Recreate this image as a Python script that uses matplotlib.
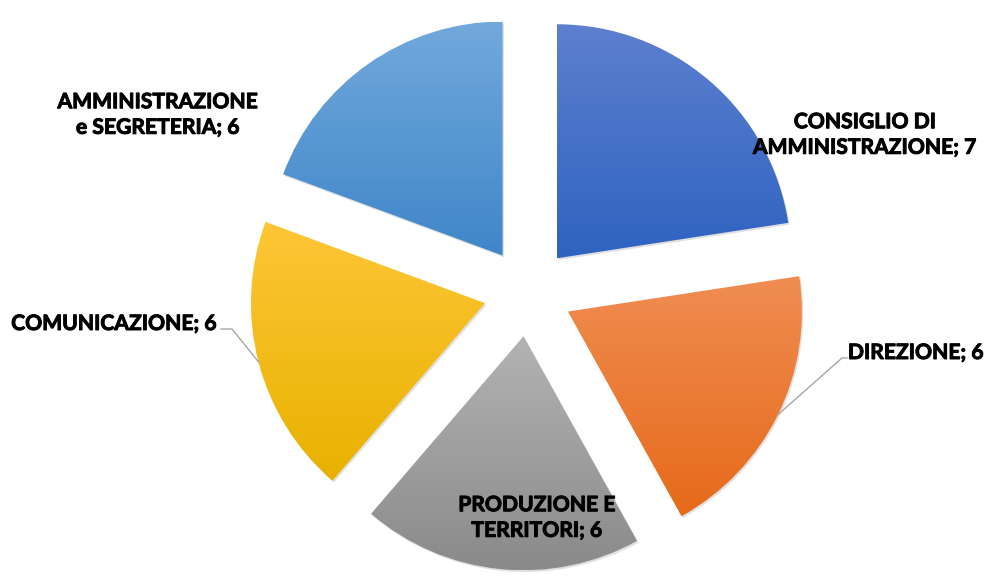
import numpy as np
import matplotlib
matplotlib.use("Agg")
import matplotlib.pyplot as plt
import matplotlib.patheffects as pe
from matplotlib.colors import to_rgb
from matplotlib.lines import Line2D
from matplotlib.patches import Wedge

categories = ["CONSIGLIO DI\nAMMINISTRAZIONE", "DIREZIONE", "PRODUZIONE E\nTERRITORI",
              "COMUNICAZIONE", "AMMINISTRAZIONE\ne SEGRETERIA"]
values = [7, 6, 6, 6, 6]

# gradient colours (top, bottom) per slice
grads = [("#5d80cf", "#2e63c0"), ("#f08d52", "#e66a1a"), ("#b3b3b3", "#8a8a8a"),
         ("#fec636", "#e8b100"), ("#72a9dc", "#3f86c9")]

plt.rcParams['font.family'] = ['Lato', 'DejaVu Sans']

W, H = 990, 576
fig = plt.figure(figsize=(W / 100, H / 100), dpi=100)
cx, cy, R = 528, 292, 234          # pie centre / radius in pixels
L = 1.3
side = 2 * L * R
ax = fig.add_axes([(cx - side / 2) / W, (H - cy - side / 2) / H, side / W, side / H])

wedges, _ = ax.pie(values, startangle=90, counterclock=False, explode=[0.19] * 5,
                   radius=1, wedgeprops=dict(linewidth=0))
ax.set_xlim(-L, L)
ax.set_ylim(-L, L)
ax.axis('off')

for w, (ctop, cbot) in zip(wedges, grads):
    # soft shadow
    sh = Wedge((w.center[0] + 0.006, w.center[1] - 0.008), w.r, w.theta1, w.theta2,
               facecolor='#000000', alpha=0.12, linewidth=0, zorder=0.5)
    ax.add_patch(sh)
    w.set_facecolor('none')
    w.set_zorder(2)
    ext = w.get_path().get_extents()
    n = 256
    t = np.linspace(0, 1, n)[:, None]
    grad = (1 - t) * np.array(to_rgb(ctop)) + t * np.array(to_rgb(cbot))
    im = ax.imshow(grad[:, None, :], extent=[ext.x0, ext.x1, ext.y0, ext.y1],
                   origin='upper', aspect='auto', zorder=1, interpolation='bilinear')
    im.set_clip_path(w)
ax.set_xlim(-L, L)
ax.set_ylim(-L, L)

labels = [f"{c}; {v}" for c, v in zip(categories, values)]
fs = 15.2
style = dict(fontsize=fs, fontweight='bold', color='black', ha='center', va='center',
             linespacing=1.35,
             path_effects=[pe.withStroke(linewidth=0.7, foreground='black')])
fig.text(865 / W, 1 - 135 / H, labels[0], **style)
fig.text(916 / W, 1 - 353 / H, labels[1], **style)
fig.text(537 / W, 1 - 518 / H, labels[2], zorder=5, **style)
fig.text(114 / W, 1 - 324 / H, labels[3], **style)
fig.text(158 / W, 1 - 115 / H, labels[4], **style)


def arc_mid(w):
    th = np.deg2rad((w.theta1 + w.theta2) / 2)
    p = (w.center[0] + w.r * np.cos(th), w.center[1] + w.r * np.sin(th))
    return fig.transFigure.inverted().transform(ax.transData.transform(p))


# leader lines (anchor on arc midpoint -> elbow -> text)
for w, elbow, end in [(wedges[1], (842, 358), (847, 358)),
                      (wedges[3], (232, 329), (221, 329))]:
    a = arc_mid(w)
    xs = [a[0], elbow[0] / W, end[0] / W]
    ys = [a[1], 1 - elbow[1] / H, 1 - end[1] / H]
    fig.add_artist(Line2D(xs, ys, color='#a6a6a6', linewidth=1.0, transform=fig.transFigure))

fig.savefig("out.png", dpi=100, facecolor='white')
